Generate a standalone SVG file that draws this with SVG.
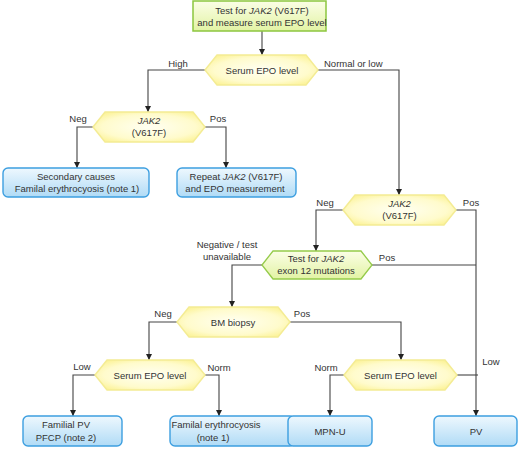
<svg xmlns="http://www.w3.org/2000/svg" width="520" height="451" viewBox="0 0 520 451">
<defs>
<linearGradient id="gGreen" x1="0" y1="0" x2="0" y2="1">
<stop offset="0" stop-color="#fbfee6"/><stop offset="1" stop-color="#e2f3a4"/>
</linearGradient>
<radialGradient id="gYellow" cx="0.5" cy="0.5" r="0.6">
<stop offset="0" stop-color="#fffff2"/><stop offset="0.7" stop-color="#fffbcc"/><stop offset="1" stop-color="#fcf39a"/>
</radialGradient>
<linearGradient id="gBlue" x1="0" y1="0" x2="0" y2="1">
<stop offset="0" stop-color="#eef8fe"/><stop offset="1" stop-color="#b0dbf6"/>
</linearGradient>
<marker id="arr" viewBox="0 0 8 8" refX="8" refY="4" markerWidth="6" markerHeight="6" markerUnits="userSpaceOnUse" orient="auto">
<path d="M0,0 L8,4 L0,8 z" fill="#222"/>
</marker>
<style>
text{font-family:"Liberation Sans",Arial,sans-serif;font-size:9.5px;fill:#333;text-anchor:middle}
.it{font-style:italic}
.box{fill:url(#gBlue);stroke:#3d9fe0;stroke-width:1.4}
.hexy{fill:url(#gYellow);stroke:#f4ec94;stroke-width:1.5}
.hexg{fill:url(#gGreen);stroke:#95cb4a;stroke-width:1.3}
.start{fill:url(#gGreen);stroke:#8cc63f;stroke-width:1.5}
.c{fill:none;stroke:#444;stroke-width:1.1}
.a{marker-end:url(#arr)}
</style>
</defs>

<g id="connectors">
<path class="c a" d="M262,31 V55"/>
<path class="c a" d="M205,70 H148 V112"/>
<path class="c a" d="M318,70 H399 V195"/>
<path class="c a" d="M93,127 H77 V168"/>
<path class="c a" d="M205,127 H226 V168"/>
<path class="c a" d="M343,210 H316 V251"/>
<path class="c a" d="M456,210 H476 V416"/>
<path class="c" d="M372,265 H476"/>
<path class="c a" d="M262,265 H232 V307"/>
<path class="c a" d="M177,322 H149 V360"/>
<path class="c a" d="M290,322 H401 V360"/>
<path class="c a" d="M95,375 H73 V416"/>
<path class="c a" d="M205,375 H219 V416"/>
<path class="c a" d="M344,375 H330 V416"/>
<path class="c" d="M457,375 H478"/>
<text x="178" y="67">High</text>
<text x="324" y="67" style="text-anchor:start">Normal or low</text>
<text x="78" y="122">Neg</text>
<text x="218" y="122">Pos</text>
<text x="325" y="206">Neg</text>
<text x="471" y="206">Pos</text>
<text x="227" y="248">Negative / test</text>
<text x="227" y="260">unavailable</text>
<text x="387" y="261">Pos</text>
<text x="163" y="317">Neg</text>
<text x="302" y="317">Pos</text>
<text x="82" y="370">Low</text>
<text x="219" y="371">Norm</text>
<text x="326" y="371">Norm</text>
<text x="491" y="365">Low</text>
</g>

<g id="start">
<rect class="start" x="193" y="1" width="133" height="30"/>
<text x="262" y="14"><tspan>Test for </tspan><tspan class="it">JAK2</tspan><tspan> (V617F)</tspan></text>
<text x="262" y="26">and measure serum EPO level</text>
</g>

<g id="serum1">
<polygon class="hexy" points="205,70 217,55 306,55 318,70 306,85 217,85"/>
<text x="262" y="73.5">Serum EPO level</text>
</g>

<g id="jak2a">
<polygon class="hexy" points="93,127 105,112 193,112 205,127 193,142 105,142"/>
<text x="149" y="124" class="it">JAK2</text>
<text x="149" y="136">(V617F)</text>
</g>

<g id="secondary">
<rect class="box" x="3" y="168" width="146" height="29" rx="5"/>
<text x="76" y="180">Secondary causes</text>
<text x="77" y="192">Familal erythrocyosis (note 1)</text>
</g>

<g id="repeat">
<rect class="box" x="177" y="168" width="119" height="29" rx="5"/>
<text x="236" y="180"><tspan>Repeat </tspan><tspan class="it">JAK2</tspan><tspan> (V617F)</tspan></text>
<text x="235" y="192">and EPO measurement</text>
</g>

<g id="jak2b">
<polygon class="hexy" points="343,210 355,195 444,195 456,210 444,225 355,225"/>
<text x="399.5" y="207" class="it">JAK2</text>
<text x="399.5" y="219">(V617F)</text>
</g>

<g id="exon12">
<polygon class="hexg" points="262,265 273,251 361,251 372,265 361,279 273,279"/>
<text x="316" y="262"><tspan>Test for </tspan><tspan class="it">JAK2</tspan></text>
<text x="316" y="274">exon 12 mutations</text>
</g>

<g id="bm">
<polygon class="hexy" points="177,322 189,307 278,307 290,322 278,337 189,337"/>
<text x="233" y="325.5">BM biopsy</text>
</g>

<g id="serum2">
<polygon class="hexy" points="95,375 107,360 193,360 205,375 193,390 107,390"/>
<text x="150" y="378.5">Serum EPO level</text>
</g>

<g id="serum3">
<polygon class="hexy" points="344,375 356,360 445,360 457,375 445,390 356,390"/>
<text x="400.5" y="378.5">Serum EPO level</text>
</g>

<g id="familialpv">
<rect class="box" x="23" y="416" width="99" height="30" rx="5"/>
<text x="66" y="428">Familial PV</text>
<text x="66" y="441">PFCP (note 2)</text>
</g>

<g id="familal">
<rect class="box" x="170" y="416" width="125" height="30" rx="5"/>
<text x="216" y="428">Familal erythrocyosis</text>
<text x="213" y="441">(note 1)</text>
</g>

<g id="mpnu">
<rect class="box" x="288" y="416" width="84" height="30" rx="5"/>
<text x="330" y="435">MPN-U</text>
</g>

<g id="pv">
<rect class="box" x="434" y="416" width="83" height="30" rx="5"/>
<text x="476" y="435">PV</text>
</g>
</svg>
